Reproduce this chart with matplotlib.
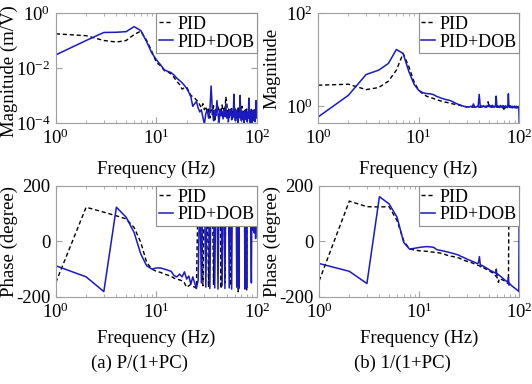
import numpy as np
import matplotlib
matplotlib.use('Agg')
import matplotlib.pyplot as plt

plt.rcParams['font.family'] = 'Liberation Serif'
plt.rcParams['mathtext.fontset'] = 'custom'
plt.rcParams['mathtext.rm'] = 'Liberation Serif'
plt.rcParams['mathtext.it'] = 'Liberation Serif:italic'
plt.rcParams['axes.unicode_minus'] = False

# frequency points of the measured response (Hz)
freq = np.arange(1, 101)

# (a) P/(1+PC) magnitude (m/V)
mag_a_pid = [0.175, 0.15, 0.10, 0.088, 0.10, 0.165, 0.22, 0.10, 0.04, 0.016,
             0.012, 0.008, 0.0072, 0.006, 0.0045, 0.0032, 0.0025, 0.0017, 0.0019, 0.002,
             0.0014, 0.001, 0.0009, 0.0008, 0.00068, 6e-4, 4.5e-4, 3.5e-4, 5e-4, 3e-4,
             4e-4, 2.2e-4, 3.6e-4, 1.5e-4, 3e-4, 2e-4, 4.2e-4, 1.1e-4, 3.3e-4, 2.5e-4,
             4e-4, 1.8e-4, 3e-4, 2.2e-4, 4.5e-4, 2e-4, 3.4e-4, 2.6e-4, 9e-4, 6e-4,
             2.4e-4, 3.5e-4, 1.6e-4, 3e-4, 2.2e-4, 3.8e-4, 1.4e-4, 2.9e-4, 2e-4, 3.4e-4,
             1.7e-4, 3.1e-4, 2.3e-4, 1.2e-4, 3.5e-4, 2.1e-4, 2.8e-4, 1.5e-4, 3.3e-4, 2.4e-4,
             4e-4, 1.8e-4, 2.6e-4, 1.3e-4, 3e-4, 2e-4, 2.7e-4, 1.5e-4, 3.2e-4, 2.2e-4,
             1.6e-4, 2.9e-4, 2.1e-4, 3.5e-4, 1.4e-4, 2.6e-4, 1.9e-4, 3.1e-4, 2.3e-4, 1.5e-4,
             2.8e-4, 2.1e-4, 3.3e-4, 1.7e-4, 2.5e-4, 2e-4, 3e-4, 1.8e-4, 2.4e-4, 2e-4]
mag_a_dob = [0.03, 0.1, 0.196, 0.2, 0.21, 0.32, 0.23, 0.09, 0.035, 0.02,
             0.013, 0.0085, 0.0075, 0.0068, 0.0055, 0.0042, 0.0035, 0.0029, 0.0023, 0.0018,
             0.0013, 0.0009, 0.0004, 0.0005, 0.0006, 3.5e-4, 2.5e-4, 3.0e-4, 1.6e-4, 9e-5,
             2.2e-4, 3.0e-4, 1.5e-4, 2.5e-4, 2.2e-3, 3.0e-4, 1.2e-4, 2.8e-4, 1.8e-4, 6.5e-4,
             2.0e-4, 1.0e-4, 3.2e-4, 1.8e-4, 2.6e-4, 1.4e-4, 3.0e-4, 1.7e-4, 5.0e-4, 1.5e-4,
             2.4e-4, 1.1e-4, 2.8e-4, 1.9e-4, 3.2e-4, 1.3e-4, 2.2e-4, 1.6e-4, 1.1e-3, 2.0e-4,
             1.2e-4, 2.6e-4, 1.5e-4, 3.0e-4, 1.0e-4, 2.3e-4, 1.7e-4, 1.0e-3, 1.9e-4, 1.2e-4,
             2.7e-4, 1.4e-4, 2.2e-4, 9e-5, 2.5e-4, 1.6e-4, 3.0e-4, 1.3e-4, 2.1e-4, 1.1e-4,
             2.4e-4, 1.5e-4, 8e-4, 1.8e-4, 1.0e-4, 2.6e-4, 1.4e-4, 2.0e-4, 9e-5, 2.8e-4,
             1.5e-4, 2.2e-4, 1.2e-4, 3.0e-4, 1.6e-4, 1.1e-4, 2.4e-4, 6.5e-4, 1.5e-4, 2.0e-4]

# (b) 1/(1+PC) magnitude
mag_b_pid = [2.83, 2.97, 2.28, 2.52, 3.45, 5.95, 13.6, 7.0, 3.33, 2.2,
             1.85, 1.64, 1.55, 1.47, 1.39, 1.33, 1.28, 1.24, 1.21, 1.18,
             1.15, 1.12, 1.1, 1.08, 1.06, 1.04, 1.02, 1.0, 0.99, 0.97,
             0.97, 0.96, 0.98, 0.95, 0.97, 0.96, 0.98, 0.95, 0.97, 0.96,
             0.95, 0.97, 0.96, 0.98, 0.95, 0.97, 0.96, 0.99, 1.25, 0.97,
             0.96, 0.98, 0.95, 0.97, 0.96, 0.98, 0.95, 0.97, 0.96, 0.98,
             0.95, 0.97, 0.96, 0.94, 0.97, 0.95, 0.96, 0.93, 0.95, 0.9,
             0.8, 0.94, 0.96, 0.95, 0.97, 0.94, 0.96, 0.95, 0.93, 0.96,
             0.95, 0.97, 0.94, 0.96, 0.95, 0.93, 0.96, 0.94, 0.95, 0.96,
             0.93, 0.95, 0.94, 0.96, 0.93, 0.95, 0.94, 0.92, 0.95, 0.94]
mag_b_dob = [0.59, 1.72, 4.8, 5.95, 8.3, 16.5, 13.6, 5.5, 2.97, 2.2,
             1.95, 1.87, 1.85, 1.78, 1.64, 1.55, 1.48, 1.42, 1.38, 1.35,
             1.3, 1.24, 1.18, 1.13, 1.09, 1.06, 1.03, 1.0, 0.98, 0.97,
             0.98, 0.96, 1.0, 0.97, 1.12, 0.98, 0.95, 1.0, 0.97, 1.8,
             0.98, 1.02, 0.96, 1.04, 0.97, 1.0, 0.95, 1.03, 0.98, 1.1,
             0.97, 1.02, 0.96, 1.05, 0.98, 1.0, 0.95, 1.02, 1.65, 0.97,
             1.03, 0.96, 1.0, 0.94, 1.04, 0.97, 1.0, 0.95, 1.03, 0.96,
             1.0, 0.94, 1.02, 0.97, 0.99, 0.93, 1.01, 1.85, 0.96, 1.0,
             0.94, 1.02, 0.96, 0.99, 0.92, 1.0, 0.95, 0.98, 0.93, 1.01,
             0.95, 0.97, 0.92, 1.0, 0.94, 0.97, 0.93, 0.99, 0.95, 0.44]

# (a) phase (degree)
ph_a_pid = [-148, 123, 105, 92, 81, 50, -4, -76, -100, -108,
            -112, -118, -122, -126, -133, -136, -139, -142, -150, -166,
            -160, -155, -162, -165, -169, 190, 185, 190, -160, 188,
            192, 185, -165, 190, 186, 192, -155, 190, 188, 185,
            190, 187, 192, -170, 190, 186, 190, -150, 188, 192,
            185, 190, 187, 190, -160, 188, 192, 185, 190, 187,
            190, 188, 192, 186, -182, 190, 187, 192, 185, 190,
            188, 192, 186, 190, 187, 192, 185, 190, -175, 188,
            192, 186, 190, 187, 192, 185, 190, 188, 192, 186,
            190, 187, 192, 185, 190, 188, 192, 186, 190, 187]
ph_a_dob = [-88, -128, -181, 123, 87, 32, -46, -88, -100, -96,
            -96, -100, -104, -108, -124, -128, -118, -128, -110, -136,
            -125, -154, -128, -150, -170, -140, 190, -150, 192, 188,
            -165, 190, 186, -170, 192, 188, 190, -168, 186, 192,
            -172, 190, 188, 186, -160, 192, 190, -170, 188, 192,
            186, 190, -168, 188, 192, -172, 190, 186, 192, 188,
            190, 186, -165, 192, 188, -170, 190, 186, 192, 188,
            190, 186, 192, 188, 190, -172, 188, 192, -168, 190,
            186, 150, 100, 170, 60, 140, 30, -150, 150, 40,
            120, 80, 160, 30, 100, 140, 10, 90, 130, 60]

# (b) phase (degree)
ph_b_pid = [-142, 145, 125, 124, 125, 75, 2, -28, -31, -34,
            -35, -36, -38, -39, -40, -42, -44, -47, -50, -52,
            -54, -55, -57, -59, -60, -63, -66, -68, -70, -72,
            -73, -75, -76, -78, -80, -82, -84, -85, -87, -88,
            -90, -92, -93, -95, -97, -99, -101, -102, -104, -106,
            -108, -110, -111, -113, -115, -118, -121, -124, -127, -130,
            -138, -148, -136, -134, -135, -137, -138, -139, -140, -141,
            -143, -144, -145, -146, -148, -150, -152, -150, 175, 172,
            171, 170, 169, 168, 167, 166, 165, 164, 163, 162,
            161, 160, 159, 158, 157, 156, 155, 154, 153, 152]
ph_b_dob = [-80, -108, -152, 161, 135, 87, -4, -28, -25, -22,
            -20, -19, -20, -22, -30, -32, -34, -36, -38, -40,
            -42, -44, -46, -48, -50, -54, -56, -59, -61, -64,
            -66, -68, -70, -72, -74, -76, -78, -80, -78, -55,
            -92, -86, -88, -90, -92, -94, -96, -98, -100, -102,
            -104, -106, -107, -108, -110, -112, -113, -115, -100, -125,
            -118, -120, -122, -124, -126, -128, -130, -132, -134, -136,
            -138, -140, -141, -143, -144, -146, -148, -130, -158, -152,
            -154, -156, -158, -160, -161, -163, -164, -166, -167, -168,
            -170, -171, -172, -174, -175, -176, -178, -179, -181, 178]

BLUE = '#1a1ac0'
GRAY = '#a0a0a0'
FS = 13.5


def style(ax, labelpad):
    for s in ax.spines.values():
        s.set_color(GRAY)
        s.set_linewidth(0.8)
    ax.tick_params(which='both', direction='in', top=True, right=True,
                   color=GRAY, labelsize=FS, pad=4)
    ax.tick_params(which='major', length=4)
    ax.tick_params(which='minor', length=2)
    ax.set_xscale('log')
    ax.set_xlim(1, 100)
    ax.set_xticks([1, 10, 100])
    ax.set_xlabel('Frequency (Hz)', fontsize=FS, labelpad=labelpad)


def plot_pair(ax, y_pid, y_dob):
    ax.plot(freq, y_pid, color='k', lw=1.0, dashes=(3, 2), label='PID')
    ax.plot(freq, y_dob, color=BLUE, lw=1.1, label='PID+DOB')
    leg = ax.legend(loc='upper right', fontsize=13, handlelength=0.75,
                    handletextpad=0.25, borderaxespad=0.0, borderpad=0.15,
                    labelspacing=0.05, fancybox=False, framealpha=1.0)
    leg.get_frame().set_edgecolor('#909090')
    leg.get_frame().set_linewidth(0.8)


fig = plt.figure(figsize=(5.32, 3.84), dpi=100)

ax1 = fig.add_axes([0.105, 0.680, 0.378, 0.286])
plot_pair(ax1, mag_a_pid, mag_a_dob)
style(ax1, 9)
ax1.set_yscale('log')
ax1.set_ylim(1e-4, 1)
ax1.set_yticks([1e-4, 1e-2, 1])
ax1.yaxis.set_minor_locator(matplotlib.ticker.NullLocator())
ax1.set_ylabel('Magnitude (m/V)', fontsize=FS)
ax1.yaxis.set_label_coords(-0.19, 0.47)

ax2 = fig.add_axes([0.598, 0.680, 0.378, 0.286])
plot_pair(ax2, mag_b_pid, mag_b_dob)
style(ax2, 9)
ax2.set_yscale('log')
ax2.set_ylim(0.44, 100)
ax2.set_yticks([1, 100])
ax2.yaxis.set_minor_locator(matplotlib.ticker.NullLocator())
ax2.set_ylabel('Magnitude', fontsize=FS)
ax2.yaxis.set_label_coords(-0.185, 0.5)

ax3 = fig.add_axes([0.105, 0.227, 0.378, 0.289])
plot_pair(ax3, ph_a_pid, ph_a_dob)
style(ax3, 5.5)
ax3.set_ylim(-200, 200)
ax3.set_yticks([-200, 0, 200])
ax3.set_ylabel('Phase (degree)', fontsize=FS)
ax3.yaxis.set_label_coords(-0.19, 0.5)

ax4 = fig.add_axes([0.600, 0.227, 0.376, 0.289])
plot_pair(ax4, ph_b_pid, ph_b_dob)
style(ax4, 5.5)
ax4.set_ylim(-200, 200)
ax4.set_yticks([-200, 0, 200])
ax4.set_ylabel('Phase (degree)', fontsize=FS)
ax4.yaxis.set_label_coords(-0.19, 0.5)

fig.text(0.263, 0.055, '(a) P/(1+PC)', fontsize=FS, ha='center', va='center')
fig.text(0.757, 0.055, '(b) 1/(1+PC)', fontsize=FS, ha='center', va='center')

fig.savefig('out.png', dpi=100)
